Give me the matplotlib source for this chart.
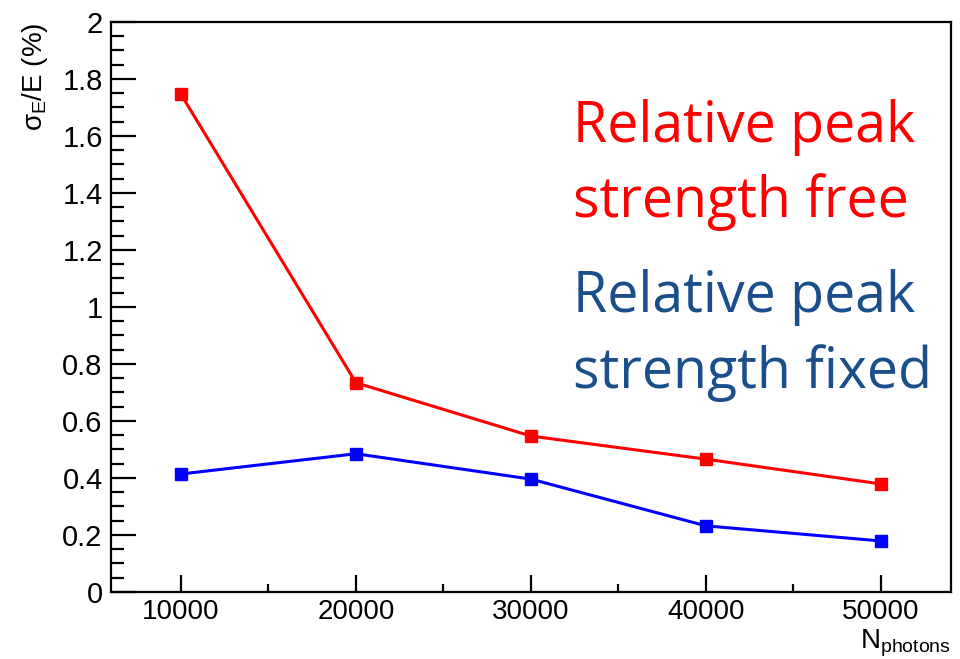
import matplotlib
matplotlib.use("Agg")
import matplotlib.pyplot as plt
from matplotlib.ticker import MultipleLocator

plt.rcParams['font.family'] = ['Liberation Sans', 'DejaVu Sans']
plt.rcParams['mathtext.fontset'] = 'custom'
plt.rcParams['mathtext.rm'] = 'Liberation Sans'
plt.rcParams['mathtext.it'] = 'Liberation Sans'
plt.rcParams['mathtext.bf'] = 'Liberation Sans:bold'

n_photons = [10000, 20000, 30000, 40000, 50000]
res_free = [1.746, 0.734, 0.547, 0.466, 0.379]
res_fixed = [0.414, 0.485, 0.396, 0.232, 0.179]

fig = plt.figure(figsize=(9.6, 6.59), dpi=100)
ax = fig.add_axes([0.1156, 0.1017, 0.875, 0.865])

ax.plot(n_photons, res_free, color='#ff0000', lw=2.2, marker='s', ms=8, zorder=3)
ax.plot(n_photons, res_fixed, color='#0000ff', lw=2.2, marker='s', ms=8, zorder=3)

ax.set_xlim(6000, 54000)
ax.set_ylim(0, 2)
ax.xaxis.set_major_locator(MultipleLocator(10000))
ax.xaxis.set_minor_locator(MultipleLocator(5000))
ax.yaxis.set_minor_locator(MultipleLocator(0.05))
ax.set_yticks([0, 0.2, 0.4, 0.6, 0.8, 1.0, 1.2, 1.4, 1.6, 1.8, 2.0])
ax.set_yticklabels(['0', '0.2', '0.4', '0.6', '0.8', '1', '1.2', '1.4', '1.6', '1.8', '2'])

for s in ax.spines.values():
    s.set_linewidth(1.6)

ax.tick_params(axis='y', which='major', direction='in', length=18, width=1.6,
               labelsize=21, pad=6)
ax.tick_params(axis='y', which='minor', direction='in', length=9, width=1.6)
ax.tick_params(axis='x', which='major', direction='in', length=12, width=1.6,
               labelsize=20, pad=5)
ax.tick_params(axis='x', which='minor', direction='in', length=6, width=1.6)

fig.text(0.036, 0.965, r'$\sigma_{\mathrm{E}}$/E (%)', rotation=90, fontsize=20,
         ha='center', va='top')
fig.text(0.990, 0.0, r'N$_{\mathrm{photons}}$', fontsize=20, ha='right', va='bottom')

legend_x = 0.55
for lines, color, ys in [(['Relative peak', 'strength free'], '#ff0000', [0.789, 0.658]),
                         (['Relative peak', 'strength fixed'], '#1a4f8b', [0.491, 0.358])]:
    for line, y in zip(lines, ys):
        ax.text(legend_x, y, line, transform=ax.transAxes, fontsize=40, color=color,
                family='Open Sans', ha='left', va='baseline')

fig.savefig('out.png', dpi=100)
